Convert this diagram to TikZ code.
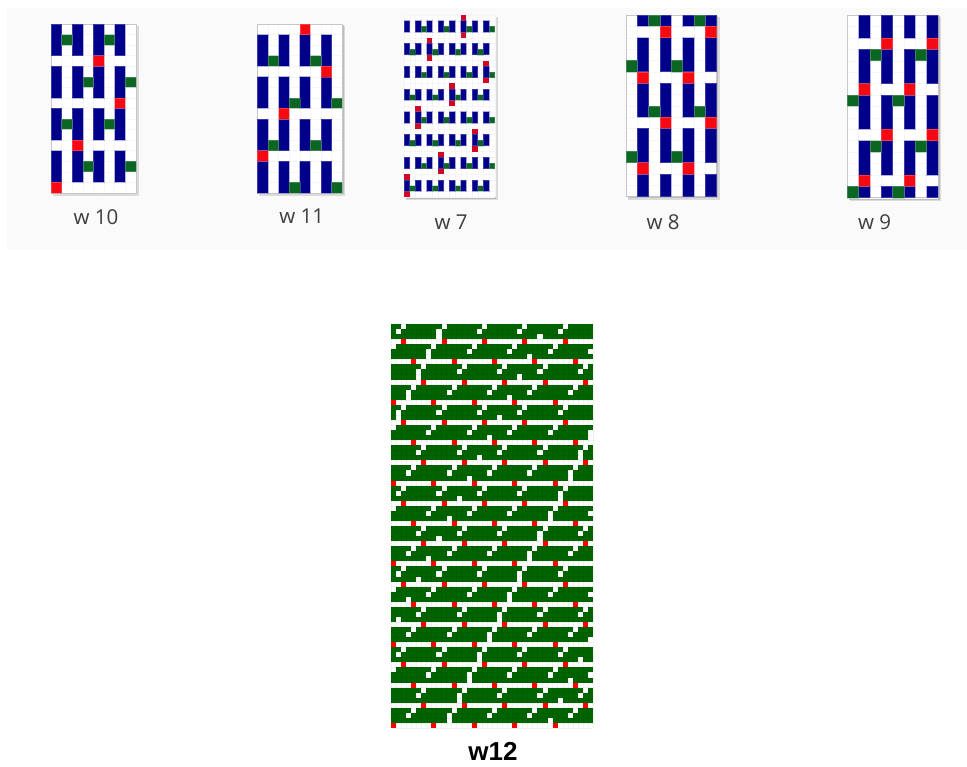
\documentclass[tikz,border=0pt]{standalone}
\usepackage{fontspec}
\newfontfamily\labfont{Open Sans}
\newfontfamily\titlefont{Liberation Sans}
\definecolor{wnavy}{HTML}{00008B}
\definecolor{wgreen}{HTML}{0B6623}
\definecolor{wred}{HTML}{F50A14}
\definecolor{bggreen}{HTML}{006400}
\definecolor{panel}{HTML}{FAFAFA}
\definecolor{labgray}{HTML}{3E3E3E}
\newcommand\cellsfill[2]{\foreach \cc/\ra/\rb in {#2}{\fill[#1] (\cc,\ra) rectangle ({\cc+1},\rb);}}
\newcommand\pagebase{%
  \fill[black!14] (0.2,0.15) rectangle (8.3,16.3);
  \fill[black!26] (0.15,0.1) rectangle (8.16,16.16);
  \fill[white] (0,0) rectangle (8,16);
  \foreach \i in {0,...,8}{\draw[faintgrid] (\i,0) -- (\i,16);}
  \foreach \i in {0,...,16}{\draw[faintgrid] (0,\i) -- (8,\i);}
  \draw[black!22,line width=0.5pt] (0,0) rectangle (8,16);
}
\tikzset{
  faintgrid/.style={black!4,line width=0.3pt},
  navycell/.style={fill=wnavy,draw=wnavy!55,draw opacity=0.5,line width=0.5pt},
  greencell/.style={fill=wgreen,draw=wgreen!55,draw opacity=0.45,line width=0.4pt},
  redcell/.style={fill=wred,draw=wred!60,draw opacity=0.5,line width=0.4pt},
  tinynavy/.style={fill=wnavy,draw=wnavy!60,draw opacity=0.55,line width=0.9pt},
  tinygreen/.style={fill=wgreen,draw=wgreen!60,draw opacity=0.4,line width=0.5pt},
  tinyred/.style={fill=wred!85!wnavy},
  smalllabel/.style={font=\labfont\fontsize{20.5}{22}\selectfont,text=labgray,inner sep=0pt,anchor=center},
  biglabel/.style={font=\titlefont\bfseries\fontsize{26}{28}\selectfont,text=black,inner sep=0pt,anchor=center},
}
\begin{document}
\begin{tikzpicture}[x=1pt,y=-1pt]
\useasboundingbox (0,0) rectangle (967,767);
\fill[white] (0,0) rectangle (967,767);
\fill[panel] (7,8) rectangle (967,250);

% w10
\begin{scope}[shift={(51,24)},x=10.6pt,y=-10.55pt]
\pagebase
\foreach \cl in {0,2,4,6}{\foreach \ra/\rb in {0/3,4/7,8/11,12/15}{\fill[navycell] (\cl,\ra) rectangle ({\cl+1},\rb);}}
\cellsfill{greencell}{1/1/2,5/1/2,3/5/6,7/5/6,1/9/10,5/9/10,3/13/14,7/13/14}
\cellsfill{redcell}{4/3/4,6/7/8,2/11/12,0/15/16}
\end{scope}

% w11
\begin{scope}[shift={(257.3,24)},x=10.6pt,y=-10.55pt]
\pagebase
\foreach \cl in {0,2,4,6}{\foreach \ra/\rb in {1/4,5/8,9/12,13/16}{\fill[navycell] (\cl,\ra) rectangle ({\cl+1},\rb);}}
\cellsfill{greencell}{1/3/4,5/3/4,3/7/8,7/7/8,1/11/12,5/11/12,3/15/16,7/15/16}
\cellsfill{redcell}{4/0/1,6/4/5,2/8/9,0/12/13}
\end{scope}

% w7
\begin{scope}[shift={(404,15)},x=5.67pt,y=-5.69pt]
\fill[black!14] (0.4,0.3) rectangle (16.55,32.5);
\fill[black!26] (0.3,0.2) rectangle (16.3,32.3);
\fill[white] (0,0) rectangle (16,32);
\foreach \i in {0,...,16}{\draw[faintgrid] (\i,0) -- (\i,32);}
\foreach \i in {0,...,32}{\draw[faintgrid] (0,\i) -- (16,\i);}
\foreach \b/\st in {0/10,1/4,2/14,3/8,4/2,5/12,6/6,7/0}{
  \pgfmathtruncatemacro\rw{4*\b+1}
  \pgfmathtruncatemacro\rwb{\rw+1}
  \pgfmathtruncatemacro\rwe{\rw+2}
  \pgfmathtruncatemacro\rwt{\rw-1}
  \pgfmathtruncatemacro\rwx{\rw+3}
  \pgfmathtruncatemacro\isodd{mod(\b,2)}
  \fill[tinyred] (\st,\rwt) rectangle ({\st+1},\rw);
  \fill[tinyred] (\st,\rwe) rectangle ({\st+1},\rwx);
  \ifnum\isodd=0
    \fill[tinynavy] (0,\rw) rectangle (1,\rwe);
    \foreach \u in {2,6,10}{
      \fill[tinygreen] ({\u+1},\rwb) rectangle ({\u+2},\rwe);
      \fill[tinynavy] (\u,\rw) rectangle ({\u+1},\rwe);
      \fill[tinynavy] ({\u+2},\rw) rectangle ({\u+3},\rwe);
    }
    \fill[tinygreen] (15,\rwb) rectangle (16,\rwe);
    \fill[tinynavy] (14,\rw) rectangle (15,\rwe);
  \else
    \foreach \u in {0,4,8,12}{
      \fill[tinygreen] ({\u+1},\rwb) rectangle ({\u+2},\rwe);
      \fill[tinynavy] (\u,\rw) rectangle ({\u+1},\rwe);
      \fill[tinynavy] ({\u+2},\rw) rectangle ({\u+3},\rwe);
    }
  \fi
}
\end{scope}

% w8
\begin{scope}[shift={(626,15)},x=11.33pt,y=-11.35pt]
\pagebase
\foreach \cl in {1,3,5,7}{\foreach \ra/\rb in {0/1,2/5,6/9,10/13,14/16}{\fill[navycell] (\cl,\ra) rectangle ({\cl+1},\rb);}}
\cellsfill{greencell}{2/0/1,6/0/1,0/4/5,4/4/5,2/8/9,6/8/9,0/12/13,4/12/13}
\cellsfill{redcell}{3/1/2,7/1/2,1/5/6,5/5/6,3/9/10,7/9/10,1/13/14,5/13/14}
\end{scope}

% w9
\begin{scope}[shift={(847.3,15)},x=11.33pt,y=-11.42pt]
\pagebase
\foreach \cl in {1,3,5,7}{\foreach \ra/\rb in {0/2,3/6,7/10,11/14,15/16}{\fill[navycell] (\cl,\ra) rectangle ({\cl+1},\rb);}}
\cellsfill{greencell}{2/3/4,6/3/4,0/7/8,4/7/8,2/11/12,6/11/12,0/15/16,4/15/16}
\cellsfill{redcell}{3/2/3,7/2/3,1/6/7,5/6/7,3/10/11,7/10/11,1/14/15,5/14/15}
\end{scope}

\node[smalllabel] (lw10) at (96,217) {w 10};
\node[smalllabel] (lw11) at (301.7,216) {w 11};
\node[smalllabel] (lw7) at (451,222.5) {w 7};
\node[smalllabel] (lw8) at (663,222.5) {w 8};
\node[smalllabel] (lw9) at (874.5,222.5) {w 9};

% w12
\begin{scope}[shift={(391,324)},x=5.05pt,y=-5.05pt]
\fill[bggreen] (0,0) rectangle (40,80);
\foreach \k in {-1,...,19}{
  \pgfmathtruncatemacro\rw{4*\k+3}
  \pgfmathtruncatemacro\rwa{\rw+1}
  \pgfmathtruncatemacro\rwb{\rw+2}
  \pgfmathtruncatemacro\rwc{\rw+3}
  \ifnum\k>-1
    \fill[white] (0,\rw) rectangle (40,\rwa);
  \fi
  \pgfmathtruncatemacro\cdn{mod(800-2*\k,8)}
  \ifnum\k<19
  \foreach \j in {0,...,4}{
    \pgfmathtruncatemacro\ca{mod(\cdn+8*\j,40)}
    \pgfmathtruncatemacro\cb{mod(\cdn+8*\j+39,40)}
    \fill[white] (\ca,\rwa) rectangle ({\ca+1},\rwb);
    \fill[white] (\cb,\rwb) rectangle ({\cb+1},\rwc);
  }
  \fi
}
\foreach \k in {0,...,19}{
  \pgfmathtruncatemacro\rw{4*\k+2}
  \pgfmathtruncatemacro\rwa{\rw+1}
  \pgfmathtruncatemacro\ca{mod(800+9-2*\k,40)}
  \pgfmathtruncatemacro\cb{mod(800+29-2*\k,40)}
  \fill[white] (\ca,\rw) rectangle ({\ca+1},\rwa);
  \fill[white] (\cb,\rw) rectangle ({\cb+1},\rwa);
}
\foreach \i in {0,...,40}{\draw[black,opacity=0.05,line width=0.4pt] (\i,0) -- (\i,80);}
\foreach \i in {0,...,80}{\draw[black,opacity=0.05,line width=0.4pt] (0,\i) -- (40,\i);}
\foreach \k in {0,...,19}{
  \pgfmathtruncatemacro\rw{4*\k+3}
  \pgfmathtruncatemacro\rwa{\rw+1}
  \pgfmathtruncatemacro\cr{mod(2+2*\k,8)}
  \foreach \j in {0,...,4}{
    \pgfmathtruncatemacro\ca{\cr+8*\j}
    \fill[red] (\ca,\rw) rectangle ({\ca+1},\rwa);
  }
}
\end{scope}
\node[biglabel] (lw12) at (493,751.5) {w12};
\end{tikzpicture}
\end{document}
